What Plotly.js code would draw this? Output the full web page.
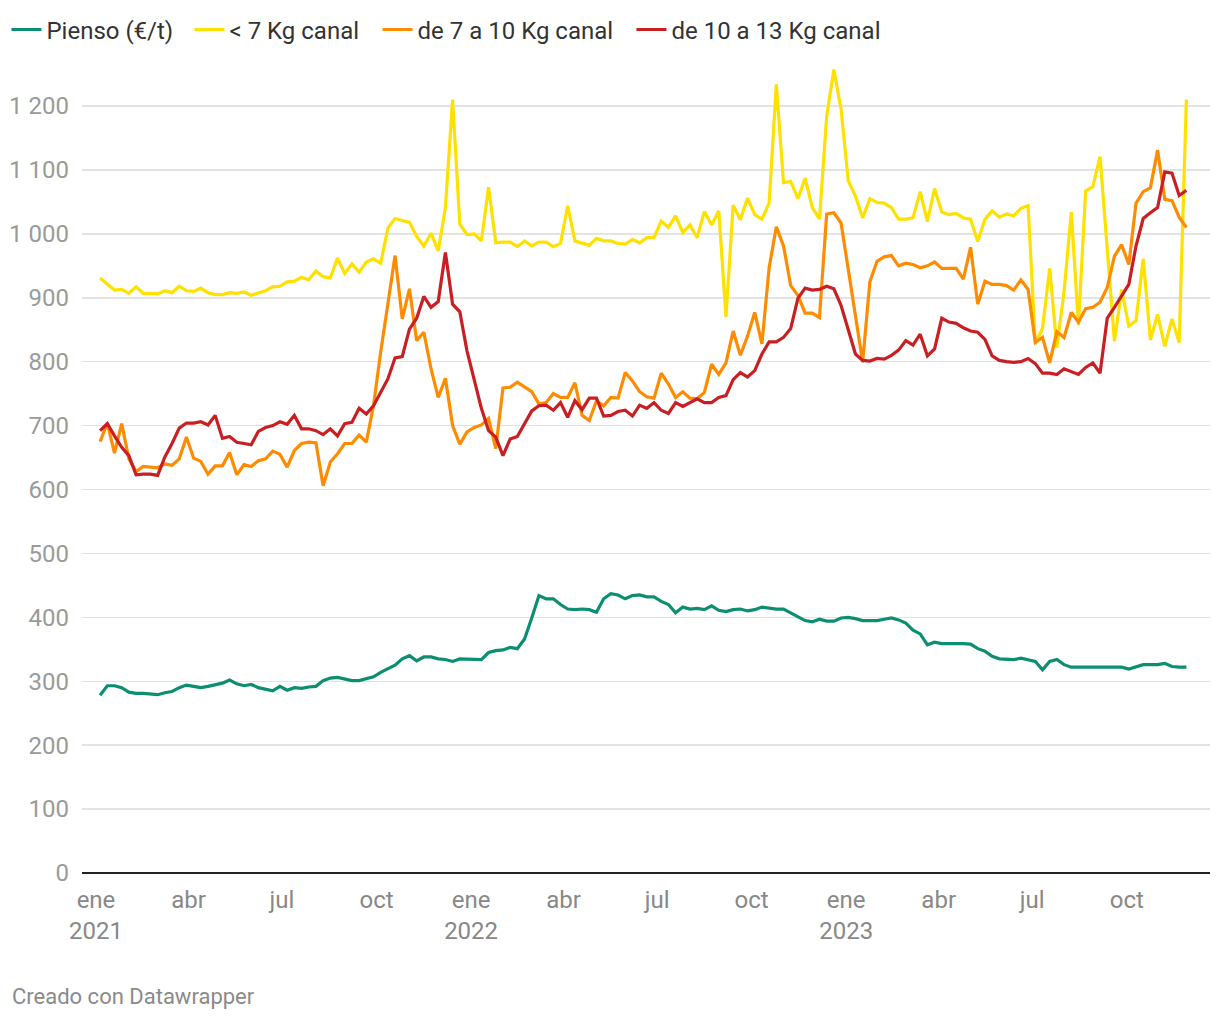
<!DOCTYPE html>
<html>
<head>
<meta charset="utf-8">
<script src="https://cdn.plot.ly/plotly-3.0.1.min.js"></script>
<style>html,body{margin:0;padding:0;background:#fff;}#chart{width:1220px;height:1020px;}</style>
</head>
<body>
<div id="chart"></div>
<script>
// Weekly observations, first week of January 2021 to end of November 2023
const firstWeek = '2021-01-05';
const nWeeks = 152;

const pienso = [278,293,293,290,283,281,281,280,279,282,284,290,294,292,290,292,295,297,302,296,
293,295,290,287,285,292,286,290,289,291,292,301,305,306,303,301,301,304,307,314,
320,325,335,340,332,338,338,335,334,331,335,335,335,334,345,348,349,353,351,366,
399,434,429,429,420,413,412,413,412,408,429,437,435,429,434,435,432,432,425,420,
407,416,413,414,412,418,411,409,412,413,410,412,416,414,413,413,407,400,395,393,
397,394,394,399,400,398,395,395,395,397,399,396,391,380,374,357,361,359,359,360,
359,358,351,347,339,335,335,334,336,334,331,318,331,334,326,322,322,322,322,323,
323,322,322,319,322,326,326,326,328,323,322,322];

const menos7 = [931,921,912,913,907,917,907,907,906,911,908,918,911,910,915,908,905,905,908,907,
909,904,907,911,917,918,925,926,932,928,942,933,931,962,938,953,940,956,961,954,
1009,1024,1021,1018,996,981,1001,973,1041,1210,1015,999,1000,989,1073,986,987,987,980,989,
981,987,987,980,985,1044,989,985,982,993,989,989,985,984,991,986,994,994,1020,1010,
1028,1002,1014,994,1035,1014,1036,870,1045,1022,1056,1030,1023,1048,1234,1080,1082,1055,1087,1041,
1023,1184,1257,1195,1083,1059,1025,1055,1049,1048,1041,1023,1023,1025,1066,1019,1071,1034,1030,1032,
1025,1023,988,1023,1036,1026,1031,1028,1040,1044,828,852,946,822,910,1034,857,1067,1074,1121,
975,832,913,856,864,961,834,874,824,867,830,1210];

const de7a10 = [675,704,657,703,648,628,636,635,634,640,638,648,682,649,644,624,637,637,658,623,
639,636,645,648,660,655,635,661,672,674,673,606,643,656,672,672,685,674,731,815,
893,966,867,914,833,846,789,744,774,700,671,690,697,701,711,664,759,760,768,760,
753,734,736,750,744,744,767,716,708,739,731,744,743,783,770,753,745,743,782,765,
744,753,743,742,752,796,780,798,848,810,840,877,828,947,1011,981,919,904,876,876,
869,1031,1033,1017,945,872,799,925,957,964,966,950,954,952,947,950,956,946,946,946,
929,979,890,926,921,921,919,912,928,913,830,838,798,847,838,877,862,883,885,893,
916,965,983,952,1048,1066,1072,1131,1054,1052,1026,1010];

const de10a13 = [692,703,684,666,653,623,624,624,622,651,672,696,704,704,706,701,716,680,683,674,
672,670,691,697,700,706,702,716,695,695,692,686,695,684,703,705,727,718,731,752,
773,806,808,851,868,902,885,894,971,890,878,817,771,727,692,682,653,679,683,703,
723,731,732,724,736,713,739,725,743,743,715,716,722,724,715,732,727,736,724,719,
736,730,736,742,736,736,744,747,772,783,776,786,812,831,831,838,852,899,915,912,
913,918,914,888,850,812,802,801,805,804,810,818,833,826,843,809,820,868,862,860,
853,848,846,835,809,802,800,799,800,805,797,782,782,780,789,784,780,791,798,782,
868,885,902,921,981,1024,1033,1041,1097,1095,1060,1068];

const seriesNames = ['Pienso (€/t)', '< 7 Kg canal', 'de 7 a 10 Kg canal', 'de 10 a 13 Kg canal'];
const seriesColors = ['#0b8f70', '#ffe100', '#ff8c00', '#c91f22'];

const xTickVals = ['2021-01-01','2021-04-01','2021-07-01','2021-10-01','2022-01-01','2022-04-01',
  '2022-07-01','2022-10-01','2023-01-01','2023-04-01','2023-07-01','2023-10-01'];
const xTickText = ['ene<br>2021','abr','jul','oct','ene<br>2022','abr','jul','oct','ene<br>2023','abr','jul','oct'];
const yTickVals = [0,100,200,300,400,500,600,700,800,900,1000,1100,1200];
const yTickText = ['0','100','200','300','400','500','600','700','800','900','1 000','1 100','1 200'];

// weekly date axis
const dates = [];
const t0 = Date.parse(firstWeek + 'T00:00:00Z');
for (let i = 0; i < nWeeks; i++) {
  dates.push(new Date(t0 + i * 7 * 864e5).toISOString().slice(0, 10));
}

const legendIds = ['legend', 'legend2', 'legend3', 'legend4'];
const legendX = [-0.0670, 0.0953, 0.2620, 0.4871];

const allSeries = [pienso, menos7, de7a10, de10a13];
const traces = allSeries.map((vals, k) => ({
  type: 'scatter', mode: 'lines', x: dates, y: vals, name: seriesNames[k],
  legend: legendIds[k],
  line: {color: seriesColors[k], width: 3.2}, hoverinfo: 'skip'
}));

const layout = {
  width: 1220, height: 1020,
  margin: {l: 82, r: 10, t: 60, b: 147, autoexpand: false},
  paper_bgcolor: '#ffffff', plot_bgcolor: '#ffffff',
  font: {family: 'Roboto, sans-serif', size: 24, color: '#333333'},
  showlegend: true,
  xaxis: {type: 'date', range: ['2020-12-18 09:00', '2023-12-21'], automargin: false,
    tickvals: xTickVals, ticktext: xTickText, showgrid: false, zeroline: false, showline: false,
    ticks: '', tickfont: {size: 24, color: '#888888'}, ticklabelstandoff: 10, fixedrange: true},
  yaxis: {range: [0, 1272], tickvals: yTickVals, ticktext: yTickText, showgrid: true, automargin: false,
    gridcolor: '#e3e3e3', gridwidth: 1.5, zeroline: true, zerolinecolor: '#222222', zerolinewidth: 2,
    showline: false, ticks: '', tickfont: {size: 24, color: '#9a9a9a'}, ticklabelstandoff: 12, fixedrange: true},
  annotations: [{text: 'Creado con Datawrapper', xref: 'paper', yref: 'paper',
    x: -0.0638, xanchor: 'left', y: -0.1525, yanchor: 'middle', showarrow: false,
    font: {size: 22, color: '#8a8a8a'}}]
};
legendIds.forEach((id, k) => {
  layout[id] = {orientation: 'h', x: legendX[k], xanchor: 'left', y: 1.037, yanchor: 'middle',
    font: {size: 24, color: '#333333'}, bgcolor: 'rgba(0,0,0,0)'};
});

Plotly.newPlot('chart', traces, layout, {displayModeBar: false, staticPlot: true});
</script>
</body>
</html>
